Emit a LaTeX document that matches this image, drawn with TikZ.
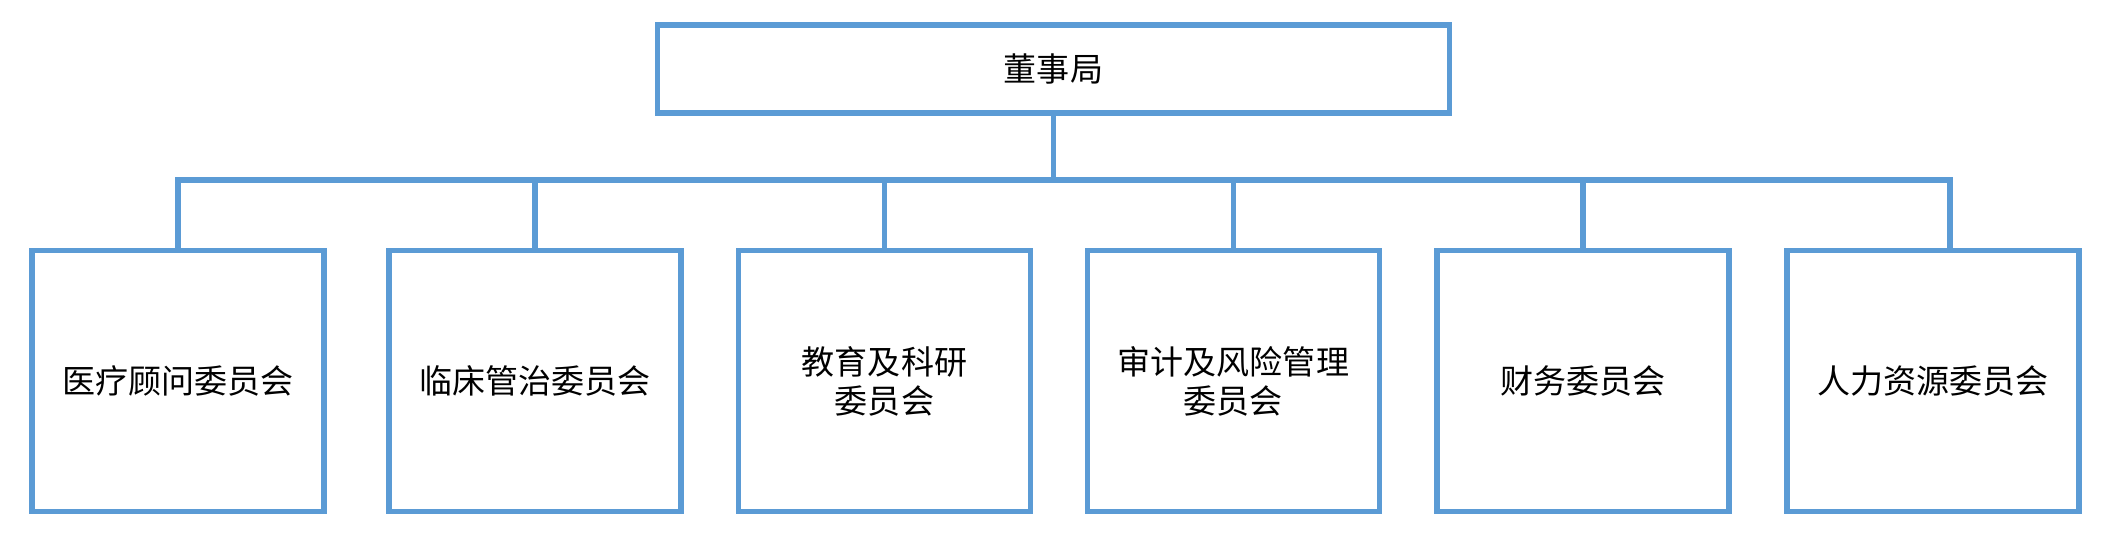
\documentclass[tikz,border=0pt]{standalone}
\usepackage{fontspec}
\setmainfont{Noto Sans CJK SC}
\definecolor{bleu}{HTML}{5B9BD5}
\begin{document}
\begin{tikzpicture}[boite/.style={draw=bleu, line width=0.055cm, align=center, inner sep=0pt, font=\fontsize{9.4}{11.1}\selectfont},
    lien/.style={draw=bleu, line width=0.055cm}]  % ------ L'organigramme -----------------------------
    \useasboundingbox (0,0) rectangle (21.08,-5.41);
    \node[boite, minimum width=7.92cm, minimum height=0.88cm] (conseil) at (10.535,-0.69) {董事局};
    \coordinate (bus) at (10.535,-1.80);
    \foreach \x/\nom/\texte in {1.781/medical/医疗顾问委员会, 5.350/clinique/临床管治委员会, 8.845/recherche/{教育及科研\\委员会},
        12.334/audit/{审计及风险管理\\委员会}, 15.830/finance/财务委员会, 19.33/rh/人力资源委员会}
      \node[boite, minimum width=2.92cm, minimum height=2.61cm] (\nom) at (\x,-3.81) {\texte};
    \draw [lien] (conseil.south)--(bus);
    \foreach \nom in {medical,clinique,recherche,audit,finance}
      \draw [lien] (\nom.north) |- (bus);
    \draw [lien] ([xshift=0.17cm]rh.north) |- (bus);
\end{tikzpicture}
\end{document}
